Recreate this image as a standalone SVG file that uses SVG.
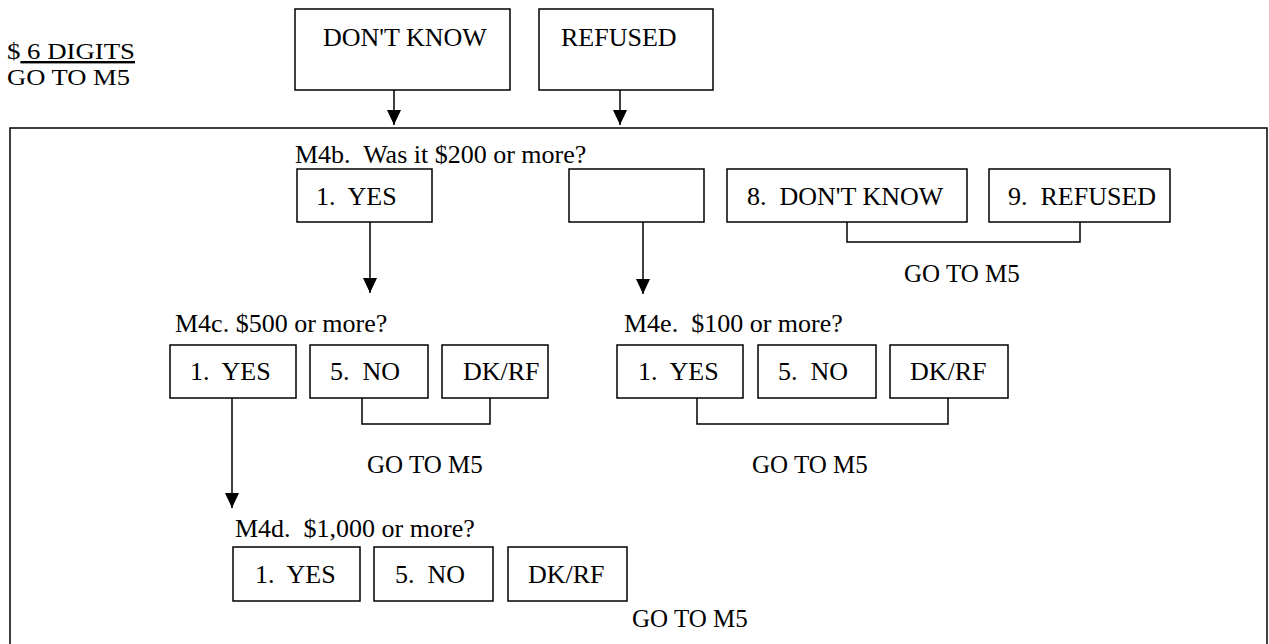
<svg xmlns="http://www.w3.org/2000/svg" width="1269" height="644" viewBox="0 0 1269 644">
<style>
text{font-family:"Liberation Serif","Times New Roman",serif;font-size:26px;fill:#000;white-space:pre}
.g{font-size:25px}
.t{font-size:24px}
.b{fill:#fff;stroke:#000;stroke-width:1.5}
.c{fill:none;stroke:#000;stroke-width:1.5}
</style>
<defs>
<marker id="ah" viewBox="0 0 15 14" refX="15" refY="7" markerWidth="15" markerHeight="14" markerUnits="userSpaceOnUse" orient="auto">
<path d="M0,0 L15,7 L0,14 Z" fill="#000"/>
</marker>
</defs>
<rect width="1269" height="644" fill="#fff"/>
<g id="digits">
<text class="t" x="7" y="59" textLength="128" lengthAdjust="spacingAndGlyphs">$<tspan text-decoration="underline"> 6 DIGITS</tspan></text>
<text class="t" x="7" y="85" textLength="123" lengthAdjust="spacingAndGlyphs">GO TO M5</text>
</g>
<rect id="frame" class="c" x="10" y="128" width="1257" height="530"/>
<g id="dk-top"><rect class="b" x="295" y="9" width="215" height="81"/><text x="323" y="46">DON'T KNOW</text></g>
<g id="rf-top"><rect class="b" x="539" y="9" width="174" height="81"/><text x="561" y="46">REFUSED</text></g>
<g id="m4b">
<text x="295" y="163">M4b.  Was it $200 or more?</text>
<g id="m4b-yes"><rect class="b" x="297" y="169" width="135" height="53"/><text x="316" y="205">1.  YES</text></g>
<g id="m4b-blank"><rect class="b" x="569" y="169" width="135" height="53"/></g>
<g id="m4b-dk"><rect class="b" x="727" y="169" width="240" height="53"/><text x="747" y="205">8.  DON'T KNOW</text></g>
<g id="m4b-rf"><rect class="b" x="989" y="169" width="181" height="53"/><text x="1008" y="205">9.  REFUSED</text></g>
<text class="g" x="904" y="282">GO TO M5</text>
</g>
<g id="m4c">
<text x="175" y="332">M4c. $500 or more?</text>
<g id="m4c-yes"><rect class="b" x="170" y="345" width="126" height="53"/><text x="190" y="380">1.  YES</text></g>
<g id="m4c-no"><rect class="b" x="310" y="345" width="118" height="53"/><text x="330" y="380">5.  NO</text></g>
<g id="m4c-dk"><rect class="b" x="442" y="345" width="106" height="53"/><text x="463" y="380">DK/RF</text></g>
<text class="g" x="367" y="473">GO TO M5</text>
</g>
<g id="m4e">
<text x="624" y="332">M4e.  $100 or more?</text>
<g id="m4e-yes"><rect class="b" x="617" y="345" width="126" height="53"/><text x="638" y="380">1.  YES</text></g>
<g id="m4e-no"><rect class="b" x="758" y="345" width="118" height="53"/><text x="778" y="380">5.  NO</text></g>
<g id="m4e-dk"><rect class="b" x="890" y="345" width="118" height="53"/><text x="910" y="380">DK/RF</text></g>
<text class="g" x="752" y="473">GO TO M5</text>
</g>
<g id="m4d">
<text x="235" y="537">M4d.  $1,000 or more?</text>
<g id="m4d-yes"><rect class="b" x="233" y="547" width="127" height="54"/><text x="255" y="583">1.  YES</text></g>
<g id="m4d-no"><rect class="b" x="374" y="547" width="119" height="54"/><text x="395" y="583">5.  NO</text></g>
<g id="m4d-dk"><rect class="b" x="508" y="547" width="119" height="54"/><text x="528" y="583">DK/RF</text></g>
<text class="g" x="632" y="627">GO TO M5</text>
</g>
<g id="connectors">
<line class="c" x1="394" y1="90" x2="394" y2="125" marker-end="url(#ah)"/>
<line class="c" x1="620" y1="90" x2="620" y2="125" marker-end="url(#ah)"/>
<line class="c" x1="370" y1="222" x2="370" y2="293" marker-end="url(#ah)"/>
<line class="c" x1="643" y1="222" x2="643" y2="294" marker-end="url(#ah)"/>
<polyline class="c" points="847,222 847,242 1080,242 1080,222"/>
<line class="c" x1="232" y1="398" x2="232" y2="508" marker-end="url(#ah)"/>
<polyline class="c" points="362,398 362,424 490,424 490,398"/>
<polyline class="c" points="697,398 697,424 948,424 948,398"/>
</g>
</svg>
